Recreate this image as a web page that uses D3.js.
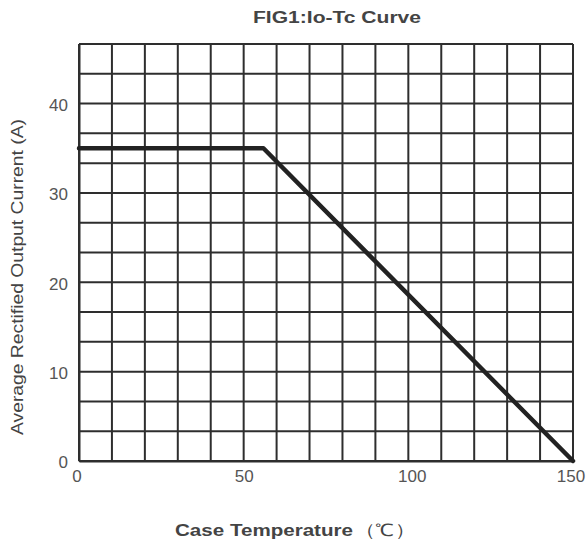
<!DOCTYPE html>
<html><head><meta charset="utf-8">
<script src="https://cdn.jsdelivr.net/npm/d3@7"></script>
<style>body{margin:0;background:#fff}svg{display:block}</style>
</head><body>
<svg id="c" width="587" height="544"></svg>
<script>
const title = "FIG1:Io-Tc Curve";
const xTitleMain = "Case Temperature";
const xTitleUnit = "（℃）";
const yTitle = "Average Rectified Output Current (A)";
const xTickLabels = [0, 50, 100, 150];
const yTickLabels = [0, 10, 20, 30, 40];
const xGrid = d3.range(0, 151, 10);
const yGrid = d3.range(0, 15).map(i => i * 10 / 3);
const tempC = [0, 56, 150];
const currentA = [35, 35, 0];

const svg = d3.select("#c");
const x = d3.scaleLinear().domain([0, 150]).range([79, 573]);
const y = d3.scaleLinear().domain([0, 140 / 3]).range([461, 44]);

const grid = svg.append("g").attr("stroke", "#2e2e2e").attr("stroke-width", 2);
grid.selectAll(".v").data(xGrid).join("line")
  .attr("x1", d => x(d)).attr("x2", d => x(d)).attr("y1", y.range()[1]).attr("y2", y.range()[0]);
grid.selectAll(".h").data(yGrid).join("line")
  .attr("y1", d => y(d)).attr("y2", d => y(d)).attr("x1", x.range()[0]).attr("x2", x.range()[1]);

const tickFont = "Liberation Sans, Arial, sans-serif";
const xAxis = svg.append("g").attr("transform", `translate(0,${y(0)})`)
  .call(d3.axisBottom(x).tickValues(xTickLabels).tickSize(0).tickPadding(9));
xAxis.select(".domain").attr("stroke", "#2e2e2e").attr("stroke-width", 2);
xAxis.selectAll("text").attr("font-family", tickFont).attr("font-size", 17).attr("fill", "#555");

const yAxis = svg.append("g").attr("transform", `translate(${x(0)},0)`)
  .call(d3.axisLeft(y).tickValues(yTickLabels).tickSize(0).tickPadding(11));
yAxis.select(".domain").attr("stroke", "#2e2e2e").attr("stroke-width", 2);
yAxis.selectAll("text").attr("font-family", tickFont).attr("font-size", 17).attr("fill", "#555").attr("dy", "0.4em");
xAxis.selectAll(".tick").filter(d => d === 0).select("text").attr("dx", "-0.15em");
xAxis.selectAll(".tick").filter(d => d === 100).select("text").attr("dx", "0.2em");
xAxis.selectAll(".tick").filter(d => d === 150).select("text").attr("dx", "-0.15em");

const pts = tempC.map((t, i) => [t, currentA[i]]);
svg.append("path").datum(pts)
  .attr("fill", "none").attr("stroke", "#222").attr("stroke-width", 4.5)
  .attr("stroke-linejoin", "round").attr("stroke-linecap", "round")
  .attr("d", d3.line().x(d => x(d[0])).y(d => y(d[1])));

svg.append("text").attr("x", 337).attr("y", 23).attr("text-anchor", "middle")
  .attr("font-family", "Liberation Sans, Arial, sans-serif").attr("font-size", 16).attr("font-weight", "bold").attr("fill", "#444")
  .attr("textLength", 168).attr("lengthAdjust", "spacingAndGlyphs")
  .text(title);

const xt = svg.append("text").attr("y", 536)
  .attr("font-family", "Liberation Sans, Arial, sans-serif").attr("font-size", 17).attr("font-weight", "bold").attr("fill", "#444");
xt.append("tspan").attr("x", 175).attr("textLength", 178).attr("lengthAdjust", "spacingAndGlyphs").text(xTitleMain);
xt.append("tspan").attr("x", 355).attr("textLength", 60).attr("lengthAdjust", "spacingAndGlyphs")
  .attr("font-weight", "normal").text(xTitleUnit);

svg.append("text").attr("transform", "translate(23,277) rotate(-90)").attr("text-anchor", "middle")
  .attr("font-family", "Liberation Sans, Arial, sans-serif").attr("font-size", 17).attr("fill", "#444")
  .attr("textLength", 316).attr("lengthAdjust", "spacingAndGlyphs")
  .text(yTitle);
</script>
</body></html>
